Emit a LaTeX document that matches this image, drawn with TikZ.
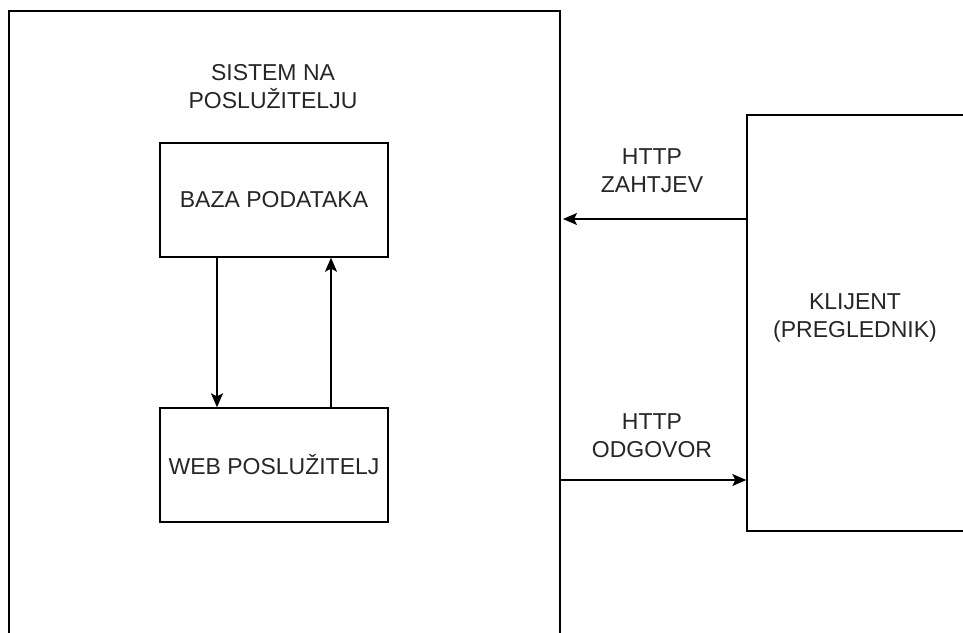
\documentclass[tikz,border=0pt]{standalone}
\usepackage{fontspec}
\setmainfont{Liberation Sans}
\usetikzlibrary{arrows.meta}
\begin{document}
\begin{tikzpicture}[x=1pt,y=-1pt,
  box/.style={draw=black,line width=1.4pt,inner sep=0pt,fill=none},
  lbl/.style={align=center,font=\fontsize{23}{28}\selectfont,text=black!85,inner sep=0pt},
  conn/.style={line width=1.4pt,-{Stealth[length=14pt,width=12pt,inset=3pt]}}]
\useasboundingbox (0,0) rectangle (963,632);
\clip (0,0) rectangle (963,632);
\node[box,minimum width=551pt,minimum height=660pt] (sys) at (284.5,341) {};
\node[box,minimum width=260pt,minimum height=416pt] (cli) at (877,323) {};
\node[box,minimum width=228pt,minimum height=114pt] (db) at (274,200) {};
\node[box,minimum width=228pt,minimum height=114pt] (web) at (274,465) {};
\node[lbl] (systxt) at (273,87) {SISTEM NA\\POSLUŽITELJU};
\node[lbl] (dbtxt) at (db) {BAZA PODATAKA};
\node[lbl] (webtxt) at (web) {WEB POSLUŽITELJ};
\node[lbl] (clitxt) at (855,318) {KLIJENT\\(PREGLEDNIK)};
\node[lbl] (req) at (652,171) {HTTP\\ZAHTJEV};
\node[lbl] (resp) at (652,436) {HTTP\\ODGOVOR};
\coordinate (reqend) at (563,219);
\draw[conn] (db.south -| 217,0) -- (web.north -| 217,0);
\draw[conn] (web.north -| 331,0) -- (db.south -| 331,0);
\draw[conn] (cli.west |- reqend) -- (reqend);
\draw[conn] (sys.east |- 0,480) -- (cli.west |- 0,480);
\end{tikzpicture}
\end{document}
